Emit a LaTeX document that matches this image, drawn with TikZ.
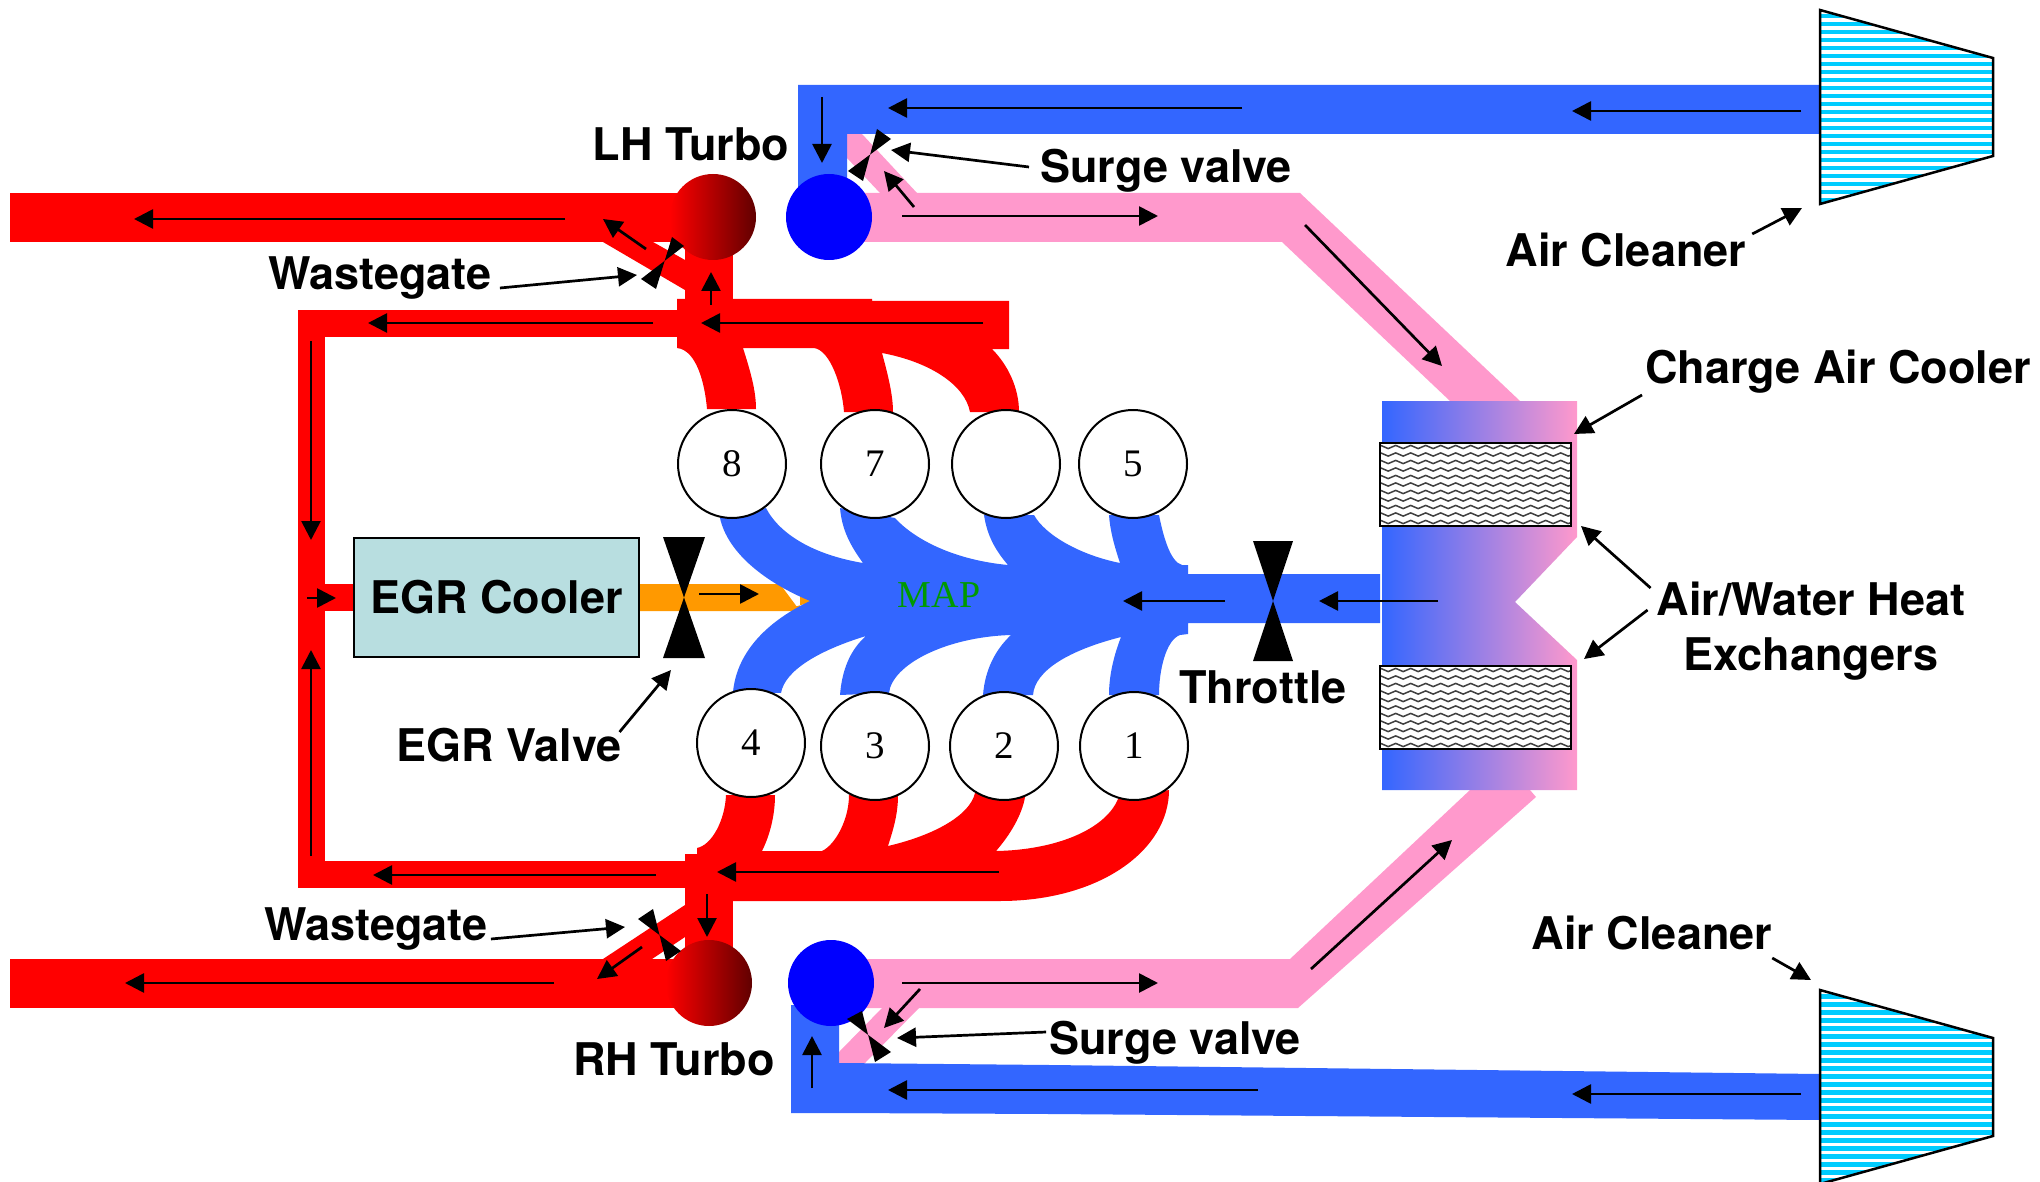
\documentclass[tikz,border=0pt]{standalone}
\usepackage{fontspec}
\setmainfont{TeX Gyre Heros}
\newfontfamily\cylfont{Liberation Serif}
\usetikzlibrary{arrows.meta,decorations.pathmorphing}
\definecolor{airblue}{HTML}{3366FF}
\definecolor{chargepink}{HTML}{FF99CC}
\definecolor{egrorange}{HTML}{FF9900}
\definecolor{mapgreen}{HTML}{009900}
\definecolor{coolerfill}{HTML}{B8DEE0}
\definecolor{stripecyan}{HTML}{00CCFF}
\tikzset{
  flowarrow/.style={draw=black, line width=2.7pt, -{Triangle[length=19pt,width=19pt]}},
  tag/.style={font=\fontsize{45}{55}\selectfont\bfseries, inner sep=0pt, align=center},
  cyl/.style={circle, draw=black, line width=2pt, fill=white, minimum size=108pt, inner sep=0pt, font=\cylfont\fontsize{39}{39}\selectfont},
  valve/.style={fill=black, line join=round},
  turboshade/.style={left color=red, right color=red!38!black}
}
\newcommand{\aircleaner}[1]{
  \begin{scope}[shift={(0,#1)}]
    \fill[white] (1820,10) -- (1993,58) -- (1993,156) -- (1820,204) -- cycle;
    \begin{scope}
      \clip (1820,10) -- (1993,58) -- (1993,156) -- (1820,204) -- cycle;
      \foreach \y in {0,...,24} {\fill[stripecyan] (1820,14+8*\y) rectangle (1993,18.5+8*\y);}
    \end{scope}
    \draw[line width=2.5pt, line join=miter] (1820,10) -- (1993,58) -- (1993,156) -- (1820,204) -- cycle;
  \end{scope}
}
\newcommand{\hexcore}[1]{
  \begin{scope}[shift={(0,#1)}]
    \fill[white] (1380,0) rectangle (1571,83);
    \begin{scope}
      \clip (1380,0) rectangle (1571,83);
      \foreach \y in {0,...,10} {\draw[black!75, line width=1.5pt, decorate, decoration={snake, amplitude=1.6pt, segment length=15pt}] (1376,4+7.5*\y) -- (1576,4+7.5*\y);}
    \end{scope}
    \draw[line width=2.5pt] (1380,0) rectangle (1571,83);
  \end{scope}
}
\begin{document}
\begin{tikzpicture}[x=1pt, y=-1pt]
\useasboundingbox (0,0) rectangle (2040,1182);

\fill[egrorange] (639,584) rectangle (800,611) -- (780,584) -- (815,601) -- (780,611) -- cycle;

\fill[red] (298,310) rectangle (677,337);
\fill[red] (298,310) rectangle (325,888);
\fill[red] (298,861) rectangle (685,888);
\fill[red] (325,584) rectangle (354,611);

\fill[red] (10,193) rectangle (713,242);
\fill[red] (603,242) -- (653,242) -- (685,260) -- (685,290) -- cycle;
\fill[red] (685,225) rectangle (733,300);
\fill[red] (677,299) -- (872,299) -- (872,301) -- (1009,301) -- (1009,349) -- (992,349)
  .. controls (1008,365) and (1019,388) .. (1019,412) -- (970,412)
  .. controls (965,385) and (930,362) .. (882,353)
  .. controls (888,375) and (893,395) .. (893,412) -- (844,412)
  .. controls (842,385) and (830,350) .. (814,348) -- (743,348)
  .. controls (750,370) and (756,390) .. (756,409) -- (707,409)
  .. controls (705,385) and (697,350) .. (677,348) -- cycle;

\fill[red] (685,862) -- (685,854) -- (697,854) -- (697,848)
  .. controls (712,845) and (725,820) .. (726,795) -- (775,795)
  .. controls (775,815) and (770,835) .. (762,851) -- (822,851)
  .. controls (835,845) and (849,820) .. (849,795) -- (898,795)
  .. controls (898,815) and (893,830) .. (888,846)
  .. controls (935,835) and (970,815) .. (975,793) -- (1025,797)
  .. controls (1022,815) and (1010,835) .. (996,851)
  .. controls (1055,850) and (1105,830) .. (1118,799) -- (1169,790)
  .. controls (1169,850) and (1100,901) .. (1000,901) -- (685,901) -- cycle;
\fill[red] (685,862) rectangle (733,965);
\fill[red] (685,905) -- (603,959) -- (652,959) -- (685,937) -- cycle;
\fill[red] (10,959) rectangle (709,1008);

\fill[chargepink] (847,134) -- (862,134) -- (917,193) -- (880,193) -- (847,158) -- cycle;
\fill[chargepink] (829,193) -- (1300,193) -- (1520,401) -- (1450,401) -- (1282,242) -- (829,242) -- cycle;
\fill[chargepink] (882,1008) -- (919,1008) -- (865,1063) -- (839,1063) -- (839,1052) -- cycle;
\fill[chargepink] (829,959) -- (1290,959) -- (1470,790) -- (1530,790) -- (1536,797) -- (1298,1008) -- (829,1008) -- cycle;

\fill[airblue] (798,85) -- (1820,85) -- (1820,134) -- (847,134) -- (847,195) -- (798,195) -- cycle;
\fill[airblue] (791,1005) -- (839,1005) -- (839,1063) -- (1050,1065) -- (1820,1074) -- (1820,1120) -- (1050,1114) -- (839,1113) -- (791,1113) -- cycle;

\fill[airblue] (810,601) .. controls (760,580) and (727,550) .. (720,518)
  -- (766,508) .. controls (780,535) and (815,555) .. (863,563)
  .. controls (850,545) and (842,530) .. (840,508)
  -- (895,518) .. controls (915,540) and (955,560) .. (1008,565)
  .. controls (995,550) and (987,535) .. (984,515)
  -- (1034,515) .. controls (1045,535) and (1080,555) .. (1120,563)
  .. controls (1114,545) and (1110,530) .. (1109,515)
  -- (1159,515) .. controls (1163,535) and (1170,562) .. (1182,565)
  -- (1188,565) -- (1188,574) -- (1380,574) -- (1380,623) -- (1188,623) -- (1188,634) -- (1180,635)
  .. controls (1166,640) and (1159,670) .. (1159,695)
  -- (1109,695) .. controls (1109,675) and (1114,655) .. (1121,637)
  .. controls (1070,650) and (1035,670) .. (1033,695)
  -- (983,695) .. controls (985,670) and (995,650) .. (1011,635)
  .. controls (945,637) and (892,665) .. (889,693)
  -- (840,695) .. controls (842,670) and (850,650) .. (866,636)
  .. controls (820,650) and (785,670) .. (781,693)
  -- (733,692) .. controls (737,650) and (770,620) .. (810,601) -- cycle;

\shade[left color=airblue, right color=chargepink] (1382,401) -- (1577,401) -- (1577,537) -- (1515,602) -- (1577,660) -- (1577,790) -- (1382,790) -- cycle;
\hexcore{443}
\hexcore{666}
\aircleaner{0}
\aircleaner{980}

\node[cyl] (cyl8) at (732,464) {8};
\node[cyl] (cyl7) at (875,464) {7};
\node[cyl] (cyl6) at (1006,464) {};
\node[cyl] (cyl5) at (1133,464) {5};
\node[cyl] (cyl4) at (751,743) {4};
\node[cyl] (cyl3) at (875,746) {3};
\node[cyl] (cyl2) at (1004,746) {2};
\node[cyl] (cyl1) at (1134,746) {1};

\shade[turboshade] (713,217) circle (43);
\shade[turboshade] (709,983) circle (43);
\fill[blue] (829,217) circle (43);
\fill[blue] (831,983) circle (43);

\fill[valve] (663,537) -- (705,537) -- (663,658) -- (705,658) -- cycle;
\fill[valve] (1253,541) -- (1293,541) -- (1253,661) -- (1293,661) -- cycle;
\fill[valve] (672,237) -- (684,246) -- (641,279) -- (656,289) -- cycle;
\fill[valve] (877,129) -- (891,139) -- (848,171) -- (863,181) -- cycle;
\fill[valve] (638,919) -- (653,909) -- (666,961) -- (681,951) -- cycle;
\fill[valve] (847,1019) -- (862,1011) -- (875,1062) -- (891,1052) -- cycle;

\node[draw=black, line width=2pt, fill=coolerfill, minimum width=285pt, minimum height=119pt, inner sep=0pt, font=\fontsize{45}{55}\selectfont\bfseries] (egrcooler) at (496.5,597.5) {EGR Cooler};
\node[text=mapgreen, font=\cylfont\fontsize{38}{38}\selectfont, inner sep=0pt] (map) at (939,595) {MAP};

\node[tag] (lhturbo) at (691,144) {LH Turbo};
\node[tag] (rhturbo) at (674,1059) {RH Turbo};
\node[tag] (surgetop) at (1166,171) {Surge valve};
\node[tag] (surgebot) at (1175,1043) {Surge valve};
\node[tag] (cleanertop) at (1626,250) {Air Cleaner};
\node[tag] (cleanerbot) at (1652,933) {Air Cleaner};
\node[tag] (chargecooler) at (1838,372) {Charge Air Cooler};
\node[tag] (heatex) at (1811,631) {Air/Water Heat\\Exchangers};
\node[tag] (gatetop) at (380,278) {Wastegate};
\node[tag] (gatebot) at (376,929) {Wastegate};
\node[tag] (egrvalve) at (509,745) {EGR Valve};
\node[tag] (throttle) at (1263,687) {Throttle};

\draw[flowarrow] (822,97) -- (822,163);
\draw[flowarrow] (1242,108) -- (888,108);
\draw[flowarrow] (1801,111) -- (1572,111);
\draw[flowarrow] (914,207) -- (884,171);
\draw[flowarrow] (902,216) -- (1158,216);
\draw[flowarrow] (1305,225) -- (1442,366);
\draw[flowarrow] (565,219) -- (134,219);
\draw[flowarrow] (646,249) -- (603,219);
\draw[flowarrow] (711,305) -- (711,272);
\draw[flowarrow] (983,323) -- (701,323);
\draw[flowarrow] (653,323) -- (368,323);
\draw[flowarrow] (311,341) -- (311,540);
\draw[flowarrow] (307,598) -- (336,598);
\draw[flowarrow] (311,856) -- (311,650);
\draw[flowarrow] (699,594) -- (759,594);
\draw[flowarrow] (1225,601) -- (1123,601);
\draw[flowarrow] (1438,601) -- (1319,601);
\draw[flowarrow] (999,872) -- (717,872);
\draw[flowarrow] (656,875) -- (373,875);
\draw[flowarrow] (707,894) -- (707,937);
\draw[flowarrow] (642,947) -- (597,979);
\draw[flowarrow] (554,983) -- (125,983);
\draw[flowarrow] (812,1088) -- (812,1036);
\draw[flowarrow] (1258,1090) -- (888,1090);
\draw[flowarrow] (1801,1094) -- (1572,1094);
\draw[flowarrow] (902,983) -- (1158,983);
\draw[flowarrow] (920,989) -- (884,1028);
\draw[flowarrow] (1311,969) -- (1452,840);

\draw[flowarrow] ([shift={(8,10)}]gatetop.east) -- (637,275);
\draw[flowarrow] ([shift={(3,10)}]gatebot.east) -- (625,927);
\draw[flowarrow] ([shift={(-11,-4)}]surgetop.west) -- (891,150);
\draw[flowarrow] ([shift={(-3,-11)}]surgebot.west) -- (897,1038);
\draw[flowarrow] ([shift={(6,-16)}]cleanertop.east) -- (1802,208);
\draw[flowarrow] ([shift={(0,25)}]cleanerbot.east) -- (1811,980);
\draw[flowarrow] ([shift={(-3,23)}]chargecooler.west) -- (1574,434);
\draw[flowarrow] ([shift={(-6,-43)}]heatex.west) -- (1581,526);
\draw[flowarrow] ([shift={(-9,-21)}]heatex.west) -- (1584,659);
\draw[flowarrow] ([shift={(-2,-13)}]egrvalve.east) -- (671,670);
\end{tikzpicture}
\end{document}
